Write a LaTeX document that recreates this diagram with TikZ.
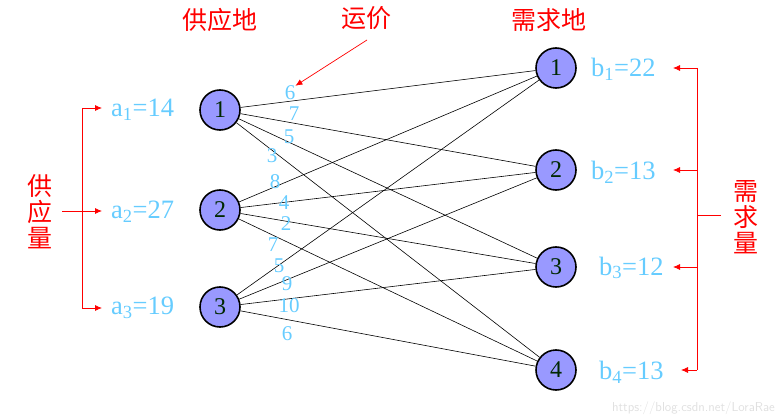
\documentclass[tikz,border=0pt]{standalone}
\usepackage{fontspec}
\setmainfont{Liberation Serif}
\newfontfamily\cjk{Noto Sans CJK SC}
\usetikzlibrary{arrows.meta}
\definecolor{lblue}{RGB}{102,204,255}
\definecolor{nodefill}{RGB}{153,153,255}
\definecolor{numgreen}{RGB}{0,40,0}
\begin{document}
\begin{tikzpicture}[x=1pt,y=-1pt,
  place/.style={circle,draw=black,line width=1.6pt,fill=nodefill,minimum size=40pt,inner sep=0pt,font=\fontsize{24}{24}\selectfont,text=numgreen},
  qty/.style={text=lblue,font=\fontsize{26.5}{26.5}\selectfont,inner sep=0pt},
  cost/.style={text=lblue,font=\fontsize{21}{21}\selectfont,inner sep=0pt},
  title/.style={text=red,font=\cjk\fontsize{25}{25}\selectfont,inner sep=0pt},
  route/.style={draw=black,line width=0.6pt},
  brace/.style={draw=red,line width=0.8pt},
  tip/.style={-{Latex[length=7pt,width=6pt]}}
]
\useasboundingbox (0,0) rectangle (777,417);
% supply nodes
\node[place] (s1) at (220,110) {1};
\node[place] (s2) at (220,210) {2};
\node[place] (s3) at (220,307) {3};
% demand nodes
\node[place] (d1) at (556,68) {1};
\node[place] (d2) at (556,170) {2};
\node[place] (d3) at (556,267) {3};
\node[place] (d4) at (556,370) {4};
% routes
\foreach \s in {s1,s2,s3}{\foreach \d in {d1,d2,d3,d4}{\draw[route] (\s) -- (\d);}}
% costs
\node[cost] (c11) at (290,93) {6};
\node[cost] (c12) at (294,114) {7};
\node[cost] (c13) at (289,137) {5};
\node[cost] (c14) at (272,156) {3};
\node[cost] (c21) at (275,182) {8};
\node[cost] (c22) at (284,203) {4};
\node[cost] (c23) at (286,224) {2};
\node[cost] (c24) at (273,245) {7};
\node[cost] (c31) at (279,266) {5};
\node[cost] (c32) at (287,284) {9};
\node[cost] (c33) at (289,306) {10};
\node[cost] (c34) at (287,334) {6};
% quantities
\node[qty,anchor=west] (a1) at (111,110) {a\textsubscript{1}=14};
\node[qty,anchor=west] (a2) at (111,212) {a\textsubscript{2}=27};
\node[qty,anchor=west] (a3) at (111,308) {a\textsubscript{3}=19};
\node[qty,anchor=west] (b1) at (591,69) {b\textsubscript{1}=22};
\node[qty,anchor=west] (b2) at (591,172) {b\textsubscript{2}=13};
\node[qty,anchor=west] (b3) at (599,268) {b\textsubscript{3}=12};
\node[qty,anchor=west] (b4) at (599,372) {b\textsubscript{4}=13};
% titles
\node[title] (t1) at (220,20) {供应地};
\node[title] (t2) at (366,18) {运价};
\node[title] (t3) at (549,20) {需求地};
\coordinate (t2a) at (367,40);
\draw[red,line width=0.7pt,tip] (t2a) -- (c11.north east);
% left bracket
\node[title,align=center] (supq) at (40,212) {供\\[1pt]应\\[1pt]量};
\coordinate (lb1) at (82,108);
\coordinate (lb2) at (82,211);
\coordinate (lb3) at (82,308);
\coordinate (lbin) at (62,211);
\draw[brace] (lb1) -- (lb3);
\draw[brace] (lbin) -- (lb2);
\draw[brace,tip] (lb1) -- ([xshift=-9pt]a1.west |- lb1);
\draw[brace,tip] (lb2) -- ([xshift=-9pt]a2.west |- lb2);
\draw[brace,tip] (lb3) -- ([xshift=-9pt]a3.west |- lb3);
% right bracket
\node[title,align=center] (demq) at (746,217) {需\\[1pt]求\\[1pt]量};
\coordinate (rb1) at (697,68);
\coordinate (rb2) at (697,170);
\coordinate (rb3) at (697,267);
\coordinate (rb4) at (697,370);
\coordinate (rbin) at (721,215);
\coordinate (rbm) at (697,215);
\draw[brace] (rb1) -- (rb4);
\draw[brace] (rbin) -- (rbm);
\draw[brace,tip] (rb1) -- (673,68);
\draw[brace,tip] (rb2) -- (673,170);
\draw[brace,tip] (rb3) -- (673,267);
\draw[brace,tip] (rb4) -- (681,370);
% watermark
\node[text=black!12,font=\sffamily\fontsize{13}{13}\selectfont,anchor=south east,inner sep=2pt] (wm) at (777,417) {https://blog.csdn.net/LoraRae};
\end{tikzpicture}
\end{document}
